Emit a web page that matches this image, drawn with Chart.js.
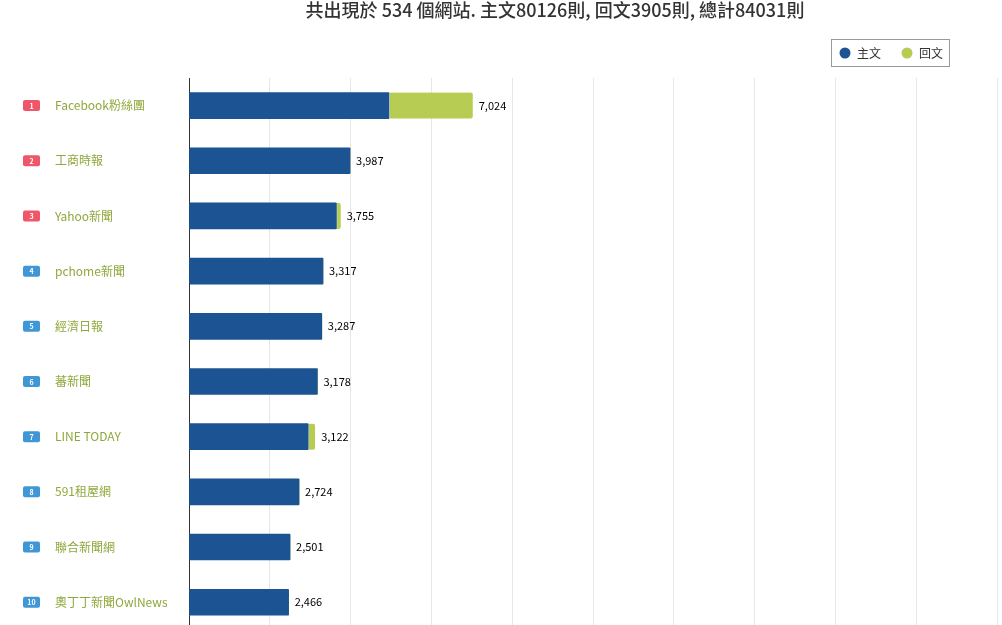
<!DOCTYPE html>
<html>
<head>
<meta charset="utf-8">
<script src="https://cdn.jsdelivr.net/npm/chart.js@4/dist/chart.umd.min.js"></script>
<style>
html,body{margin:0;padding:0;overflow:hidden;background:#fff;}
#wrap{width:1002px;height:637px;position:relative;}
</style>
</head>
<body>
<div id="wrap"><canvas id="c"></canvas></div>
<script>
const titleText = '共出現於 534 個網站. 主文80126則, 回文3905則, 總計84031則';
const categories = ['Facebook粉絲團','工商時報','Yahoo新聞','pchome新聞','經濟日報','蕃新聞','LINE TODAY','591租屋網','聯合新聞網','奧丁丁新聞OwlNews'];
const ranks = ['1','2','3','4','5','6','7','8','9','10'];
const seriesNames = ['主文','回文'];
const mainValues = [4950, 3987, 3650, 3317, 3287, 3178, 2952, 2724, 2501, 2466];
const replyValues = [2074, 0, 105, 0, 0, 0, 170, 0, 0, 0];
const totals = [7024, 3987, 3755, 3317, 3287, 3178, 3122, 2724, 2501, 2466];

const FONT = '"Noto Sans CJK TC","Noto Sans",sans-serif';
const BLUE = '#1b5393';
const GREEN = '#b7cc52';

const decor = {
  id: 'decor',
  afterDraw(chart) {
    const ctx = chart.ctx;
    const y = chart.scales.y;
    ctx.save();
    // title
    ctx.fillStyle = '#333';
    ctx.font = '500 18px ' + FONT;
    ctx.textAlign = 'center';
    ctx.textBaseline = 'middle';
    ctx.fillText(titleText, 555, 10);
    // legend
    ctx.strokeStyle = '#999';
    ctx.lineWidth = 1;
    ctx.strokeRect(831.5, 39.5, 118, 27);
    ctx.font = '12px ' + FONT;
    ctx.textAlign = 'left';
    const lx = [845, 907];
    chart.data.datasets.forEach((ds, i) => {
      ctx.fillStyle = ds.backgroundColor;
      ctx.beginPath();
      ctx.arc(lx[i], 53, 5.5, 0, Math.PI * 2);
      ctx.fill();
      ctx.fillStyle = '#333';
      ctx.fillText(ds.label, lx[i] + 12, 53);
    });
    // badges
    ranks.forEach((r, i) => {
      const cy = y.getPixelForValue(i);
      ctx.fillStyle = i < 3 ? '#f0566a' : '#3f97d6';
      const bx = 23, bw = 17, bh = 11, by = cy - bh / 2;
      ctx.beginPath();
      if (ctx.roundRect) ctx.roundRect(bx, by, bw, bh, 2); else ctx.rect(bx, by, bw, bh);
      ctx.fill();
      ctx.fillStyle = '#fff';
      ctx.font = 'bold 7px ' + FONT;
      ctx.textAlign = 'center';
      ctx.fillText(r, bx + bw / 2, cy + 0.5);
    });
    // value labels
    const meta = chart.getDatasetMeta(chart.data.datasets.length - 1);
    ctx.fillStyle = '#000';
    ctx.font = '11px ' + FONT;
    ctx.textAlign = 'left';
    meta.data.forEach((el, i) => {
      ctx.fillText(totals[i].toLocaleString('en-US'), el.x + 6, el.y);
    });
    ctx.restore();
  }
};

new Chart(document.getElementById('c'), {
  type: 'bar',
  data: {
    labels: categories,
    datasets: [
      { label: seriesNames[0], data: mainValues, backgroundColor: BLUE, barThickness: 26,
        borderWidth: 0, borderRadius: {topRight: 1, bottomRight: 1} },
      { label: seriesNames[1], data: replyValues, backgroundColor: GREEN, barThickness: 26,
        borderColor: '#ffffff', borderSkipped: false,
        borderWidth: {left: 1, top: 0, right: 0, bottom: 0}, borderRadius: {topRight: 2, bottomRight: 2} }
    ]
  },
  options: {
    indexAxis: 'y',
    responsive: true,
    maintainAspectRatio: false,
    animation: false,
    layout: { padding: { top: 78, left: 55, right: 5, bottom: 0 } },
    plugins: {
      legend: { display: false },
      title: { display: false },
      tooltip: { enabled: false }
    },
    scales: {
      x: {
        stacked: true,
        min: 0, max: 20000,
        ticks: { display: false, stepSize: 2000 },
        grid: { color: '#e6e6e6', drawTicks: false },
        border: { display: false }
      },
      y: {
        stacked: true,
        afterFit(scale) { scale.width = 134; },
        ticks: { crossAlign: 'far', color: '#8fa83c', font: { family: FONT, size: 12 }, padding: 0 },
        grid: { display: false },
        border: { color: '#333', width: 1 }
      }
    }
  },
  plugins: [decor]
});
</script>
</body>
</html>
